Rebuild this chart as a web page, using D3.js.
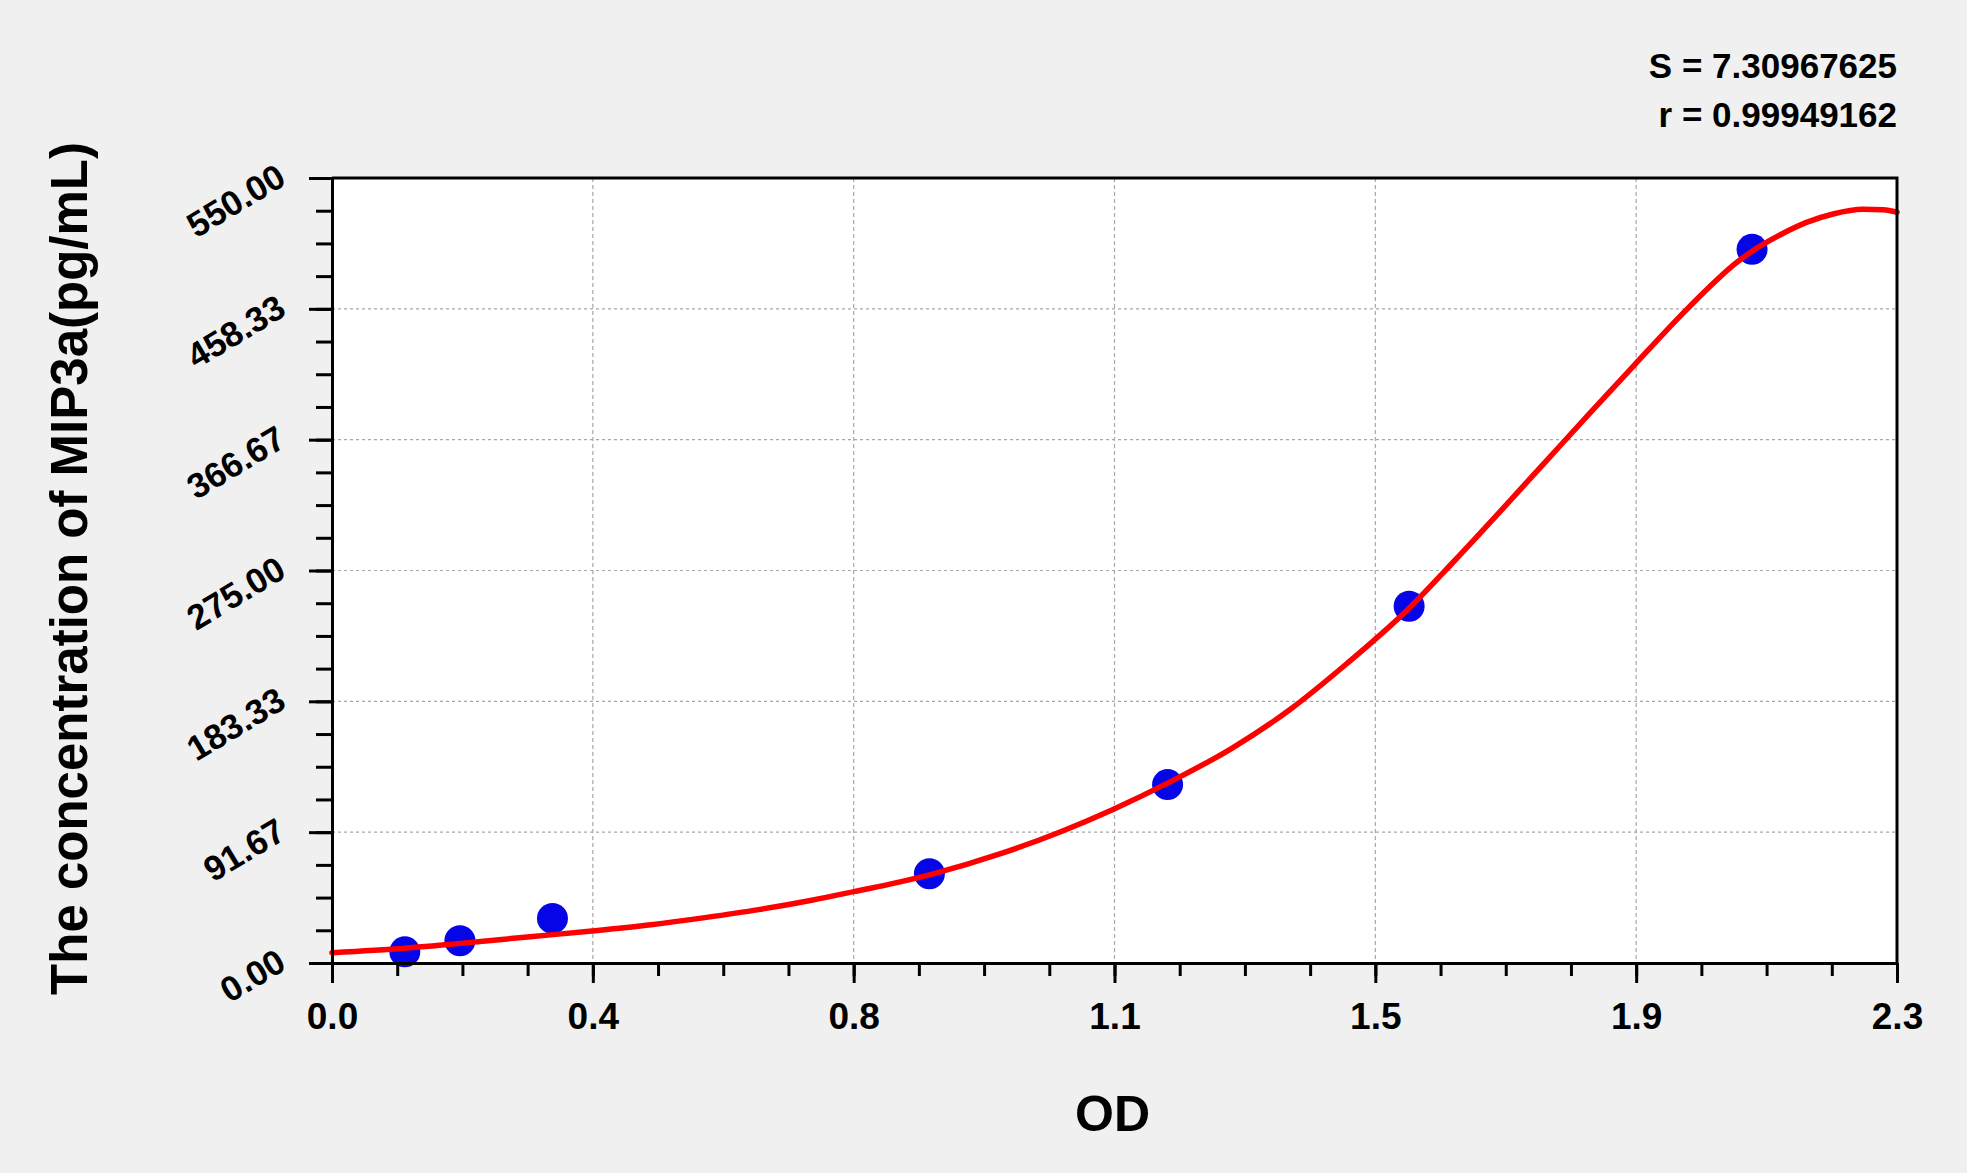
<!DOCTYPE html>
<html>
<head>
<meta charset="utf-8">
<script src="https://cdn.jsdelivr.net/npm/d3@7"></script>
<style>
  html, body { margin: 0; padding: 0; background: #f0f0f0; }
  svg { display: block; font-family: "Liberation Sans", Arial, sans-serif; font-weight: bold; }
</style>
</head>
<body>
<svg id="chart" width="1967" height="1173"></svg>
<script>
// ---- data ----
const xTickLabels = ["0.0", "0.4", "0.8", "1.1", "1.5", "1.9", "2.3"];
const yTickLabels = ["0.00", "91.67", "183.33", "275.00", "366.67", "458.33", "550.00"];

// standards (OD vs concentration)
const stdOD   = [0.107, 0.188, 0.324, 0.878, 1.228, 1.583, 2.087];
const stdConc = [7.81, 15.63, 31.25, 62.5, 125, 250, 500];

// fitted curve
const fitOD   = [0.000, 0.107, 0.181, 0.291, 0.382, 0.469, 0.548, 0.627, 0.705, 0.767,
                 0.820, 0.878, 0.986, 1.070, 1.147, 1.228, 1.323, 1.408, 1.492, 1.583,
                 1.650, 1.720, 1.785, 1.850, 1.915, 1.986, 2.025, 2.059, 2.086, 2.128,
                 2.167, 2.206, 2.250, 2.280, 2.300];
const fitConc = [7.2, 10.3, 13.4, 18.4, 22.4, 26.8, 31.8, 37.4, 44.0, 50.0,
                 55.3, 61.8, 77.1, 91.8, 107.4, 126.0, 150.6, 177.6, 210.0, 248.6,
                 282.0, 318.0, 352.0, 386.0, 419.5, 455.5, 474.0, 488.8, 498.4, 510.1,
                 518.9, 524.8, 528.1, 527.8, 526.0];

const statLines = ["S = 7.30967625", "r = 0.99949162"];
const xTitle = "OD";
const yTitle = "The concentration of MIP3a(pg/mL)";

const xMax = 2.3, yMax = 550;
const minorPerMajor = 4;

// ---- layout ----
const margin = { left: 332, right: 70, top: 178, bottom: 210 };
const W = 1967, H = 1173;
const pw = W - margin.left - margin.right;
const ph = H - margin.top - margin.bottom;

const svg = d3.select("#chart");
const g = svg.append("g").attr("transform", `translate(${margin.left},${margin.top})`);

const x = d3.scaleLinear().domain([0, xMax]).range([0, pw]);
const y = d3.scaleLinear().domain([0, yMax]).range([ph, 0]);

const nX = xTickLabels.length - 1, nY = yTickLabels.length - 1;
const xMajor = d3.range(nX + 1).map(i => i * xMax / nX);
const yMajor = d3.range(nY + 1).map(i => i * yMax / nY);
const xMinor = d3.range(nX * minorPerMajor + 1).map(i => i * xMax / (nX * minorPerMajor));
const yMinor = d3.range(nY * minorPerMajor + 1).map(i => i * yMax / (nY * minorPerMajor));

// plot background
g.append("rect").attr("width", pw).attr("height", ph).attr("fill", "#fff");

// grid
g.append("g").selectAll("line").data(xMajor.slice(1, -1)).join("line")
  .attr("x1", d => x(d)).attr("x2", d => x(d)).attr("y1", 0).attr("y2", ph)
  .attr("stroke", "#a8a8a8").attr("stroke-width", 1.2).attr("stroke-dasharray", "4,3");
g.append("g").selectAll("line").data(yMajor.slice(1, -1)).join("line")
  .attr("y1", d => y(d)).attr("y2", d => y(d)).attr("x1", 0).attr("x2", pw)
  .attr("stroke", "#a8a8a8").attr("stroke-width", 1.2).attr("stroke-dasharray", "3,3");

// points (under the curve)
g.append("g").selectAll("circle").data(stdOD).join("circle")
  .attr("cx", d => x(d)).attr("cy", (d, i) => y(stdConc[i]))
  .attr("r", 15.5).attr("fill", "#0505e8");

// fitted curve
const line = d3.line()
  .x((d, i) => x(fitOD[i]))
  .y(d => y(d))
  .curve(d3.curveMonotoneX);
g.append("path").datum(fitConc)
  .attr("d", line)
  .attr("fill", "none").attr("stroke", "#f00").attr("stroke-width", 5.5)
  .attr("stroke-linejoin", "round").attr("stroke-linecap", "round");

// frame top/right
g.append("path").attr("d", `M0,0H${pw}V${ph}`)
  .attr("fill", "none").attr("stroke", "#000").attr("stroke-width", 3);

// axes: minor ticks
g.append("g").attr("transform", `translate(0,${ph})`)
  .call(d3.axisBottom(x).tickValues(xMinor).tickSize(13).tickFormat(""))
  .call(a => a.select(".domain").remove())
  .call(a => a.selectAll("line").attr("stroke-width", 3));
g.append("g")
  .call(d3.axisLeft(y).tickValues(yMinor).tickSize(16).tickFormat(""))
  .call(a => a.select(".domain").remove())
  .call(a => a.selectAll("line").attr("stroke-width", 3));

// axes: major ticks + labels
const xAxis = g.append("g").attr("transform", `translate(0,${ph})`)
  .call(d3.axisBottom(x).tickValues(xMajor).tickSizeInner(20).tickSizeOuter(0)
    .tickFormat((d, i) => xTickLabels[i]));
xAxis.select(".domain").attr("stroke-width", 3);
xAxis.selectAll("line").attr("stroke-width", 3);
xAxis.selectAll("text")
  .attr("y", 66).attr("dy", null)
  .attr("font-size", 37).attr("font-weight", "bold").attr("fill", "#000")
  .attr("font-family", "Liberation Sans, Arial, sans-serif");

const yAxis = g.append("g")
  .call(d3.axisLeft(y).tickValues(yMajor).tickSizeInner(23).tickSizeOuter(0)
    .tickFormat((d, i) => yTickLabels[i]));
yAxis.select(".domain").attr("stroke-width", 3);
yAxis.selectAll("line").attr("stroke-width", 3);
yAxis.selectAll("text")
  .attr("x", null).attr("dy", null)
  .attr("transform", "translate(-44,5) rotate(-31)")
  .attr("text-anchor", "end")
  .attr("font-size", 35).attr("font-weight", "bold").attr("fill", "#000")
  .attr("font-family", "Liberation Sans, Arial, sans-serif");

// titles
svg.append("text")
  .attr("x", margin.left + pw / 2 - 2).attr("y", 1131)
  .attr("text-anchor", "middle").attr("font-size", 50)
  .text(xTitle);

svg.append("text")
  .attr("transform", `translate(87,${margin.top + ph / 2 - 2}) rotate(-90)`)
  .attr("text-anchor", "middle").attr("font-size", 51)
  .text(yTitle);

// fit statistics
svg.append("g").selectAll("text").data(statLines).join("text")
  .attr("x", margin.left + pw).attr("y", (d, i) => 78 + i * 49)
  .attr("text-anchor", "end").attr("font-size", 35)
  .text(d => d);
</script>
</body>
</html>
